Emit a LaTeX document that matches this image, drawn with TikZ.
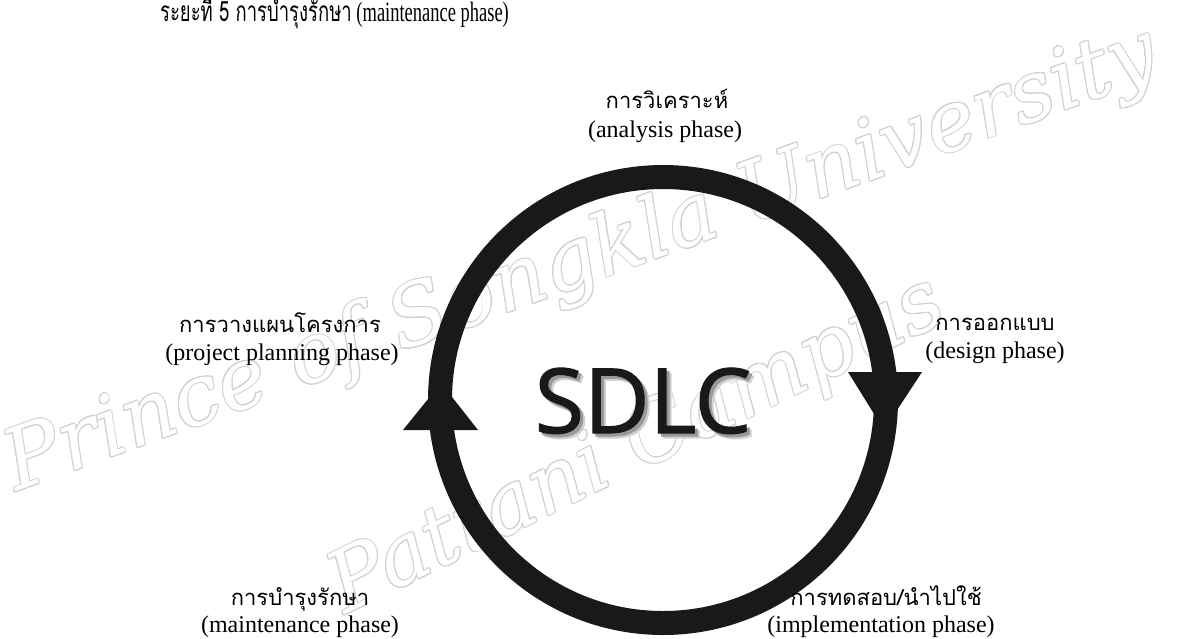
\documentclass[tikz,border=0pt]{standalone}
\usepackage{fontspec}
\setmainfont{Liberation Serif}
\newfontfamily\thaifont[Script=Thai]{Loma}
\newfontfamily\sdlcfont[FakeBold=1.2]{Open Sans}
\newfontfamily\wmfont{DejaVu Serif}

\tikzset{
  thailabel/.style={font=\thaifont\fontsize{22}{22}\selectfont, anchor=base, inner sep=0pt},
  englabel/.style={font=\fontsize{24}{24}\selectfont, anchor=base, inner sep=0pt},
  ring/.style={line width=24pt, draw=black!90},
  tip/.style={fill=black!90},
  wmark/.style={font=\wmfont\itshape\fontsize{84}{84}\selectfont, anchor=base west, inner sep=0pt},
  sdlctext/.style={font=\sdlcfont\fontsize{90}{90}\selectfont, anchor=base, inner sep=0pt},
}

\begin{document}
\begin{tikzpicture}[x=1pt, y=-1pt]
  \useasboundingbox (0,0) rectangle (1190,638);
  \fill [white] (0,0) rectangle (1190,638);

  % Watermark (outlined)
  \foreach \a in {0,30,...,330}{
    \node [wmark, text=black!18, rotate=20, shift={(\a:1)}] (wmone\a) at (16,492) {Prince of Songkla University};
    \node [wmark, text=black!18, rotate=26, shift={(\a:1)}] (wmtwo\a) at (345,615) {Pattani Campus};
  }
  \node [wmark, text=white, rotate=20] (wmone) at (16,492) {Prince of Songkla University};
  \node [wmark, text=white, rotate=26] (wmtwo) at (345,615) {Pattani Campus};

  % Heading cut at the top
  \node [anchor=base west, inner sep=0pt, font=\fontsize{28}{28}\selectfont, xscale=0.66] (title) at (160,21)
    {{\thaifont ระยะที่ 5 การบำรุงรักษา} (maintenance phase)};

  % Cycle
  \coordinate (c) at (663,400);
  \draw [ring] (c) circle [radius=223];
  \fill [tip] (848,372) -- (922,372) -- (884,430) -- cycle;
  \fill [tip] (403,430) -- (478,430) -- (441,383) -- cycle;

  % SDLC with shadow
  \node [sdlctext, text=black!18] (sdlcshadeb) at (648,438) {SDLC};
  \node [sdlctext, text=black!40] (sdlcshadea) at (646,436) {SDLC};
  \node [sdlctext, text=black!90] (sdlc) at (643,433) {SDLC};

  % Phases
  \node [thailabel] (analysis) at (667,108) {การวิเคราะห์};
  \node [englabel] (analysisen) at (665,137) {(analysis phase)};

  \node [thailabel] (design) at (995,330) {การออกแบบ};
  \node [englabel] (designen) at (995,358) {(design phase)};

  \node [thailabel] (planning) at (280,332) {การวางแผนโครงการ};
  \node [englabel] (planningen) at (282,360) {(project planning phase)};

  \node [thailabel] (maint) at (300,605) {การบำรุงรักษา};
  \node [englabel] (mainten) at (300,632) {(maintenance phase)};

  \node [thailabel] (impl) at (886,605) {การทดสอบ/นำไปใช้};
  \node [englabel] (implen) at (881,632) {(implementation phase)};

\end{tikzpicture}
\end{document}
